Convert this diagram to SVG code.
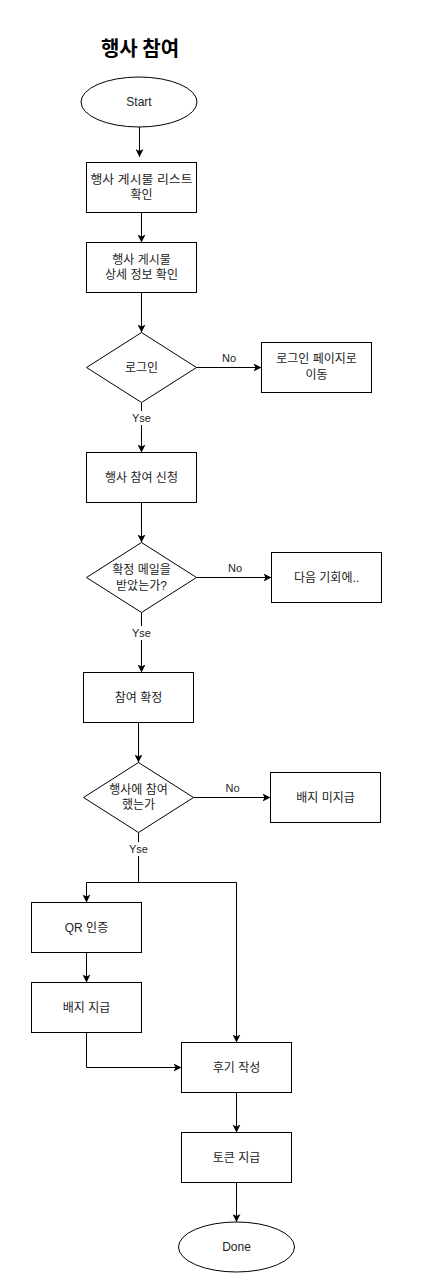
<svg xmlns="http://www.w3.org/2000/svg" width="428" height="1273" viewBox="0 0 428 1273">
<style>
.n{fill:#fff;stroke:#000;stroke-width:1}
.t{font-family:"Liberation Sans","Noto Sans CJK KR",sans-serif;font-size:12px;fill:#222;text-anchor:middle;dominant-baseline:central}
.l{font-family:"Liberation Sans","Noto Sans CJK KR",sans-serif;font-size:11px;fill:#222;text-anchor:middle;dominant-baseline:central}
.e{fill:none;stroke:#000;stroke-width:1}
.lb{fill:#fff}
</style>
<defs>
<marker id="a" markerUnits="userSpaceOnUse" viewBox="0 0 8 8" markerWidth="8" markerHeight="8" refX="8" refY="4" orient="auto">
<path d="M0,0 L8,4 L0,8 L2,4 Z" fill="#000"/>
</marker>
</defs>
<rect width="428" height="1273" fill="#fff"/>
<text x="140" y="47" style="font-family:'Noto Sans CJK KR',sans-serif;font-size:20px;font-weight:bold;fill:#000;text-anchor:middle;dominant-baseline:central">행사 참여</text>

<g id="connectors">
<path class="e" d="M139.5,127 V157" marker-end="url(#a)"/>
<path class="e" d="M141.5,212.5 V242.5" marker-end="url(#a)"/>
<path class="e" d="M141.5,292.5 V332.5" marker-end="url(#a)"/>
<path class="e" d="M196.5,367.5 H261.5" marker-end="url(#a)"/>
<path class="e" d="M141.5,402.5 V452.5" marker-end="url(#a)"/>
<path class="e" d="M141.5,502.5 V542.5" marker-end="url(#a)"/>
<path class="e" d="M196.5,577.5 H271.5" marker-end="url(#a)"/>
<path class="e" d="M141.5,612.5 V672.5" marker-end="url(#a)"/>
<path class="e" d="M138.5,722.5 V762.5" marker-end="url(#a)"/>
<path class="e" d="M193.5,797.5 H270.5" marker-end="url(#a)"/>
<path class="e" d="M138.5,832.5 V882.5 H86.5 V902.5" marker-end="url(#a)"/>
<path class="e" d="M138.5,882.5 H236.5 V1042.5" marker-end="url(#a)"/>
<path class="e" d="M86.5,952.5 V982.5" marker-end="url(#a)"/>
<path class="e" d="M86.5,1032.5 V1067.5 H181.5" marker-end="url(#a)"/>
<path class="e" d="M236.5,1092.5 V1132.5" marker-end="url(#a)"/>
<path class="e" d="M236.5,1182.5 V1222" marker-end="url(#a)"/>
<text class="l" x="229" y="358">No</text>
<text class="l" x="235" y="568">No</text>
<text class="l" x="232.5" y="788">No</text>
<rect class="lb" x="130" y="411" width="23" height="14"/>
<text class="l" x="141.5" y="418">Yse</text>
<rect class="lb" x="130" y="626" width="23" height="14"/>
<text class="l" x="141.5" y="633">Yse</text>
<rect class="lb" x="127" y="842" width="23" height="14"/>
<text class="l" x="138.5" y="849">Yse</text>
</g>

<g id="start"><ellipse class="n" cx="139" cy="102" rx="58" ry="25"/><text class="t" x="139" y="102">Start</text></g>
<g id="list"><rect class="n" x="86.5" y="162.5" width="110" height="50"/><text class="t" x="141.5" y="180" textLength="102" lengthAdjust="spacingAndGlyphs">행사 게시물 리스트</text><text class="t" x="141.5" y="195">확인</text></g>
<g id="detail"><rect class="n" x="86.5" y="242.5" width="110" height="50"/><text class="t" x="141.5" y="260">행사 게시물</text><text class="t" x="141.5" y="275">상세 정보 확인</text></g>
<g id="login"><polygon class="n" points="141.5,332.5 196.5,367.5 141.5,402.5 86.5,367.5"/><text class="t" x="141.5" y="367.5">로그인</text></g>
<g id="loginpage"><rect class="n" x="261.5" y="342.5" width="110" height="50"/><text class="t" x="316.5" y="359">로그인 페이지로</text><text class="t" x="316.5" y="375">이동</text></g>
<g id="apply"><rect class="n" x="86.5" y="452.5" width="110" height="50"/><text class="t" x="141.5" y="477.5">행사 참여 신청</text></g>
<g id="mail"><polygon class="n" points="141.5,542.5 196.5,577.5 141.5,612.5 86.5,577.5"/><text class="t" x="141.5" y="569.5">확정 메일을</text><text class="t" x="141.5" y="586">받았는가?</text></g>
<g id="next"><rect class="n" x="271.5" y="552.5" width="110" height="50"/><text class="t" x="326.5" y="577.5">다음 기회에..</text></g>
<g id="confirm"><rect class="n" x="83.5" y="672.5" width="110" height="50"/><text class="t" x="138.5" y="697.5">참여 확정</text></g>
<g id="attended"><polygon class="n" points="138.5,762.5 193.5,797.5 138.5,832.5 83.5,797.5"/><text class="t" x="138.5" y="790">행사에 참여</text><text class="t" x="138.5" y="805">했는가</text></g>
<g id="nobadge"><rect class="n" x="270.5" y="772.5" width="110" height="50"/><text class="t" x="325.5" y="797.5">배지 미지급</text></g>
<g id="qr"><rect class="n" x="31.5" y="902.5" width="110" height="50"/><text class="t" x="86.5" y="927.5">QR 인증</text></g>
<g id="badge"><rect class="n" x="31.5" y="982.5" width="110" height="50"/><text class="t" x="86.5" y="1007.5">배지 지급</text></g>
<g id="review"><rect class="n" x="181.5" y="1042.5" width="110" height="50"/><text class="t" x="236.5" y="1067.5">후기 작성</text></g>
<g id="token"><rect class="n" x="181.5" y="1132.5" width="110" height="50"/><text class="t" x="236.5" y="1157.5">토큰 지급</text></g>
<g id="done"><ellipse class="n" cx="236.5" cy="1247" rx="58" ry="25"/><text class="t" x="236.5" y="1247">Done</text></g>
</svg>
